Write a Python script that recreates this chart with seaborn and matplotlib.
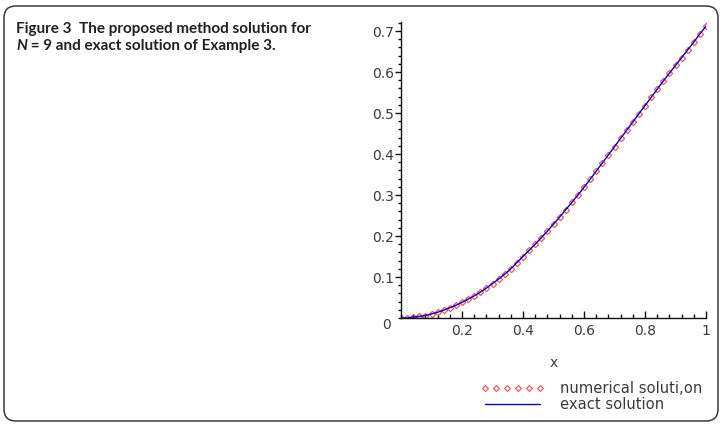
### IMPORTS

import matplotlib
matplotlib.use("Agg")
import matplotlib.pyplot as plt
from matplotlib.patches import FancyBboxPatch
from matplotlib.lines import Line2D
from matplotlib.text import Annotation
from matplotlib.ticker import MultipleLocator
import pandas as pd
import seaborn as sns

### DATA

x_vals = [0.00, 0.02, 0.04, 0.06, 0.08, 0.10, 0.12, 0.14, 0.16, 0.18,
          0.20, 0.22, 0.24, 0.26, 0.28, 0.30, 0.32, 0.34, 0.36, 0.38,
          0.40, 0.42, 0.44, 0.46, 0.48, 0.50, 0.52, 0.54, 0.56, 0.58,
          0.60, 0.62, 0.64, 0.66, 0.68, 0.70, 0.72, 0.74, 0.76, 0.78,
          0.80, 0.82, 0.84, 0.86, 0.88, 0.90, 0.92, 0.94, 0.96, 0.98, 1.00]
numerical = [0.000, 0.000, 0.002, 0.004, 0.006, 0.010, 0.014, 0.019, 0.025, 0.031,
             0.038, 0.046, 0.054, 0.063, 0.073, 0.084, 0.095, 0.107, 0.120, 0.135,
             0.150, 0.165, 0.180, 0.196, 0.212, 0.229, 0.246, 0.264, 0.282, 0.300,
             0.319, 0.338, 0.358, 0.378, 0.398, 0.418, 0.438, 0.458, 0.478, 0.498,
             0.518, 0.538, 0.558, 0.578, 0.597, 0.616, 0.635, 0.654, 0.673, 0.693, 0.712]
exact = [0.000, 0.000, 0.002, 0.004, 0.006, 0.010, 0.014, 0.019, 0.025, 0.031,
         0.038, 0.046, 0.054, 0.063, 0.073, 0.084, 0.095, 0.107, 0.120, 0.135,
         0.150, 0.165, 0.180, 0.196, 0.212, 0.229, 0.246, 0.264, 0.282, 0.300,
         0.319, 0.338, 0.358, 0.378, 0.398, 0.418, 0.438, 0.458, 0.478, 0.498,
         0.518, 0.538, 0.558, 0.578, 0.597, 0.616, 0.635, 0.654, 0.673, 0.693, 0.712]

x_ticks = [0.2, 0.4, 0.6, 0.8, 1.0]
x_tick_labels = ["0.2", "0.4", "0.6", "0.8", "1"]
y_ticks = [0.1, 0.2, 0.3, 0.4, 0.5, 0.6, 0.7]
y_tick_labels = ["0.1", "0.2", "0.3", "0.4", "0.5", "0.6", "0.7"]
series_labels = ["numerical soluti,on", "exact solution"]

df = pd.DataFrame({"x": x_vals, "numerical": numerical, "exact": exact})

### FIGURE

sns.set_style("ticks")
plt.rcParams["font.family"] = ["DejaVu Sans"]

fig = plt.figure(figsize=(7.23, 4.24), dpi=100)

# rounded frame round the whole figure
frame = FancyBboxPatch((0.04, 0.03), 7.14, 4.15,
                       boxstyle="round,pad=0,rounding_size=0.12",
                       transform=fig.dpi_scale_trans, fill=False,
                       edgecolor="#3a3a3a", linewidth=1.1)
fig.patches.append(frame)

# caption
cap_kw = dict(fontfamily="Lato", fontweight="bold", fontsize=11, color="#231f20")
fig.text(16 / 723, 1 - 32.5 / 424, "Figure 3  The proposed method solution for",
         va="baseline", **cap_kw)
t_n = fig.text(16 / 723, 1 - 53 / 424, "N", fontstyle="italic", va="bottom", **cap_kw)
fig.add_artist(Annotation(" = 9 and exact solution of Example 3.", xy=(1, 0), xycoords=t_n,
                          xytext=(0, 0), textcoords="offset points", va="bottom", **cap_kw))

### PLOT

ax = fig.add_axes([401 / 723, 1 - 318 / 424, 305 / 723, 296 / 424])

sns.lineplot(data=df, x="x", y="numerical", ax=ax, linestyle="none", marker="D",
             markersize=3.2, markerfacecolor="none", markeredgecolor="#f05a5a",
             markeredgewidth=0.9, zorder=2)
sns.lineplot(data=df, x="x", y="exact", ax=ax, color="#0000cc", linewidth=1.0, zorder=3)

ax.set_xlim(0, 1)
ax.set_ylim(0, 0.722)
sns.despine(ax=ax)
for s in ["left", "bottom"]:
    ax.spines[s].set_color("#111111")
    ax.spines[s].set_linewidth(1.0)

ax.set_xticks(x_ticks)
ax.set_xticklabels(x_tick_labels)
ax.set_yticks(y_ticks)
ax.set_yticklabels(y_tick_labels)
ax.xaxis.set_minor_locator(MultipleLocator(0.04))
ax.yaxis.set_minor_locator(MultipleLocator(0.02))
ax.tick_params(axis="x", which="major", direction="in", length=5, width=1, color="#111111",
               labelsize=10, labelcolor="#3a3a3a", pad=4)
ax.tick_params(axis="x", which="minor", direction="in", length=3, width=1, color="#111111")
ax.tick_params(axis="y", which="major", direction="out", length=4, width=1, color="#111111",
               labelsize=10, labelcolor="#3a3a3a", pad=1)
ax.tick_params(axis="y", which="minor", direction="out", length=2, width=1, color="#111111")

ax.set_xlabel("x", fontsize=10, color="#3a3a3a", labelpad=13)
ax.set_ylabel("")
ax.text(-0.032, -0.022, "0", transform=ax.transAxes, ha="right", va="center",
        fontsize=10, color="#3a3a3a")

### LEGEND

handles = [Line2D([], [], linestyle="none", marker="D", markersize=3.0, markerfacecolor="none",
                  markeredgecolor="#f05a5a", markeredgewidth=0.9),
           Line2D([], [], color="#0000cc", linewidth=1.0)]
fig.legend(handles, series_labels, loc="upper left",
           bbox_to_anchor=(481 / 723, 1 - 381 / 424), frameon=False,
           numpoints=6, handlelength=4.3, handletextpad=1.1, labelspacing=0.05,
           borderpad=0, borderaxespad=0, prop={"size": 10.6},
           labelcolor="#3a3a3a")

fig.savefig("out.png", dpi=100)
